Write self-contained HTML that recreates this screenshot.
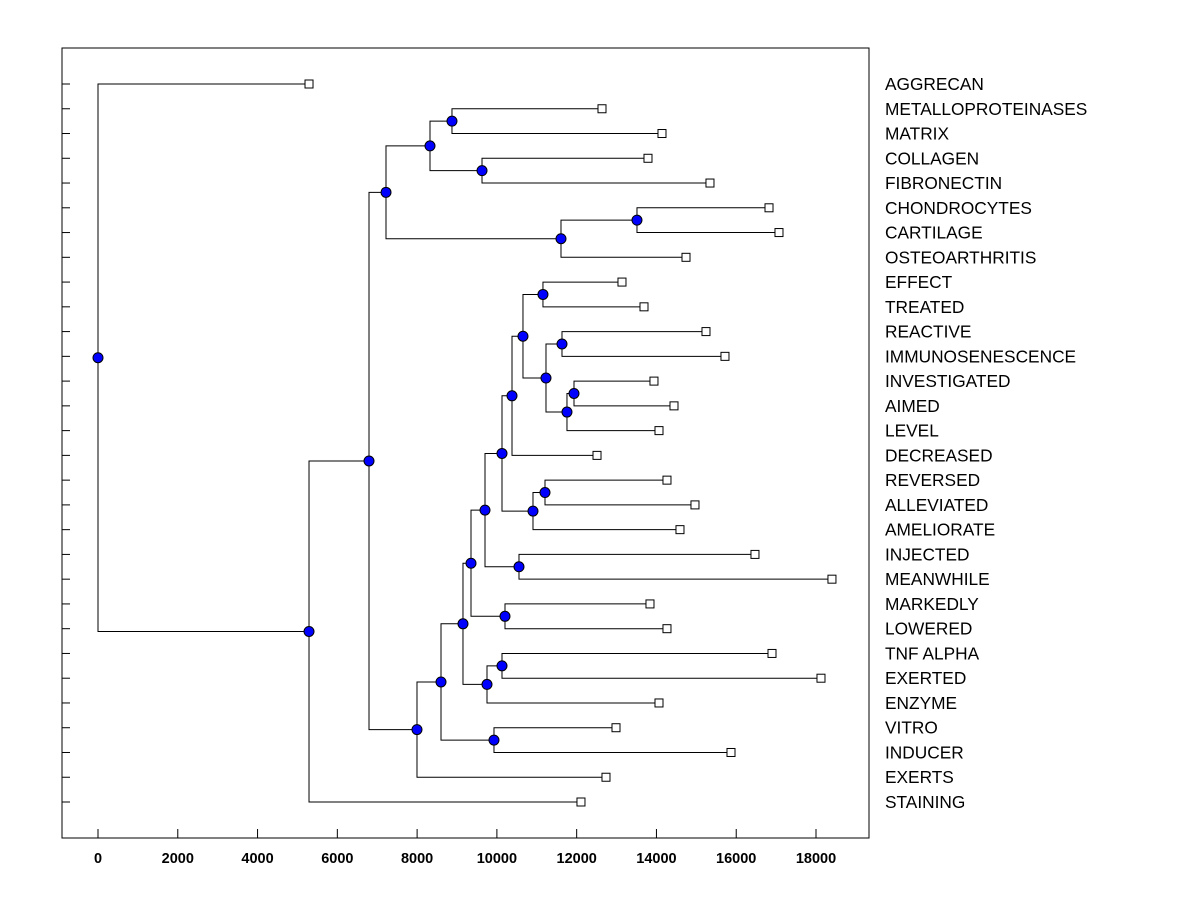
<!DOCTYPE html>
<html><head><meta charset="utf-8"><style>
html,body{margin:0;padding:0;background:#fff;}
svg{display:block;font-family:"Liberation Sans",Arial,sans-serif;}
</style></head><body>
<svg id="chart" width="1200" height="900">
<rect x="62" y="48" width="807" height="790" fill="none" stroke="#000" stroke-width="1"/>
<g id="axis"></g>
<g id="links"></g>
<g id="marks"></g>
<g id="labels"></g>
</svg>
<script>
const leafNames=["AGGRECAN","METALLOPROTEINASES","MATRIX","COLLAGEN","FIBRONECTIN","CHONDROCYTES","CARTILAGE","OSTEOARTHRITIS","EFFECT","TREATED","REACTIVE","IMMUNOSENESCENCE","INVESTIGATED","AIMED","LEVEL","DECREASED","REVERSED","ALLEVIATED","AMELIORATE","INJECTED","MEANWHILE","MARKEDLY","LOWERED","TNF ALPHA","EXERTED","ENZYME","VITRO","INDUCER","EXERTS","STAINING"];
const leafValues=[5290,12635,14139,13788,15342,16822,17072,14741,13136,13688,15242,15718,13938,14440,14064,12510,14264,14966,14590,16470,18400,13838,14264,16897,18125,14064,12986,15869,12735,12108];
const nodeHeights={root:0,n1:5290,n2:6794,n3:7220,n5:8323,n7:8874,n8:9627,n6:11607,n9:13512,nlow:7997,n10:8599,n12:9927,n11:9150,n14:9752,n15:10128,n13:9351,n17:10203,n16:9702,n19:10554,n18:10128,n21:10905,n22:11206,n20:10379,n23:10654,n24:11155,n25:11231,n26:11632,n27:11757,n28:11933};
const xTicks=[0,2000,4000,6000,8000,10000,12000,14000,16000,18000];
// structure: [node, left, right]; numbers are leaf indices
const tree=["root",0,["n1",["n2",["n3",["n5",["n7",1,2],["n8",3,4]],["n6",["n9",5,6],7]],["nlow",["n10",["n11",["n13",["n16",["n18",["n20",["n23",["n24",8,9],["n25",["n26",10,11],["n27",["n28",12,13],14]]],15],["n21",["n22",16,17],18]],["n19",19,20]],["n17",21,22]],["n14",["n15",23,24],25]],["n12",26,27]],28]],29]];

const NS="http://www.w3.org/2000/svg";
const xs=v=>98+v*(816-98)/18000;
const ys=i=>84+i*(802-84)/29;
function mk(tag,attrs,parent){const e=document.createElementNS(NS,tag);for(const k in attrs)e.setAttribute(k,attrs[k]);parent.appendChild(e);return e;}
const axis=document.getElementById('axis'),links=document.getElementById('links'),marks=document.getElementById('marks'),labels=document.getElementById('labels');
xTicks.forEach(t=>{
  const l=mk('line',{x1:xs(t),x2:xs(t),y1:829,y2:838,stroke:'#000'},axis);
  
  
  const tx=mk('text',{x:xs(t),y:863,'text-anchor':'middle','font-size':'14.5','font-weight':'bold'},axis);
  tx.textContent=t;
  
  
});
leafNames.forEach((n,i)=>{
  const l=mk('line',{x1:62,x2:70,y1:ys(i),y2:ys(i),stroke:'#000'},axis);
  
  
  const tx=mk('text',{x:885,y:ys(i)+6,'font-size':'17.3'},labels);
  tx.textContent=n;
  
  
});
const nodeMarks=[],leafMarks=[];
function walk(t){
  if(typeof t==='number'){
    leafMarks.push([xs(leafValues[t]),ys(t)]);
    return {x:xs(leafValues[t]),y:ys(t)};
  }
  const x=xs(nodeHeights[t[0]]);
  const a=walk(t[1]),b=walk(t[2]);
  const y=(a.y+b.y)/2;
  const p=mk('path',{d:`M${a.x},${a.y}H${x}V${b.y}H${b.x}`,fill:'none',stroke:'#000','stroke-width':1},links);
  
  
  nodeMarks.push([x,y]);
  return {x:x,y:y};
}
walk(tree);
leafMarks.forEach(m=>{
  const r=mk('rect',{x:m[0]-4,y:m[1]-4,width:8,height:8,fill:'#fff',stroke:'#000'},marks);
  
  
});
nodeMarks.forEach(m=>{
  const c=mk('circle',{cx:m[0],cy:m[1],r:5,fill:'#0000ff',stroke:'#000'},marks);
  
  
});
</script>
</body></html>
